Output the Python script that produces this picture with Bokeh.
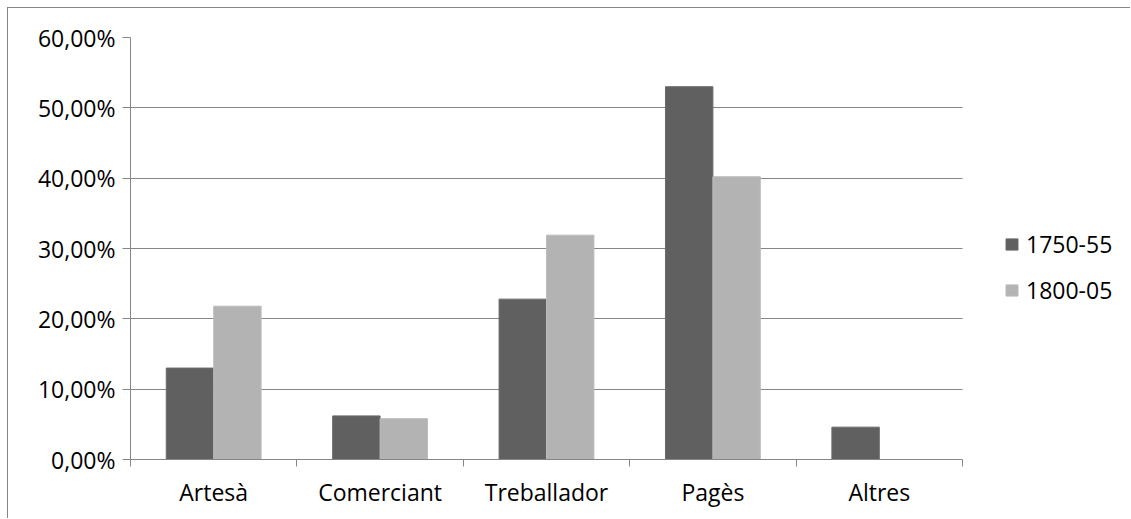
from bokeh.plotting import figure
from bokeh.models import (ColumnDataSource, FixedTicker, CustomJSTickFormatter,
                          Legend, LegendItem, Range1d, Grid)
from bokeh.transform import dodge
from bokeh.embed import file_html
from bokeh.resources import INLINE

categories = ["Artesà", "Comerciant", "Treballador", "Pagès", "Altres"]
series_names = ["1750-55", "1800-05"]
v1750 = [13.0, 6.2, 22.8, 53.0, 4.6]
v1800 = [21.8, 5.8, 31.9, 40.2, 0.0]
y_ticks = [0, 10, 20, 30, 40, 50, 60]

n = len(categories)
centers = [i + 0.5 for i in range(n)]
bounds = [float(i) for i in range(n + 1)]

src = ColumnDataSource(dict(x=centers, a=v1750, b=v1800))

FONT = "Open Sans"
FS = "23px"
GRID = "#868686"

W, H = 1123, 511
LEFT, TOP, BOTTOM = 122, 29, 60
CAT_PX = 832.0  # pixel width that the five categories occupy
x_end = n * (W - LEFT) / CAT_PX

p = figure(width=W, height=H, output_backend="svg", toolbar_location=None,
           x_range=Range1d(0, x_end), y_range=Range1d(0, 60),
           min_border_left=LEFT, min_border_right=0, min_border_top=TOP,
           min_border_bottom=BOTTOM)
p.styles = {"margin-left": "7px", "margin-top": "7px",
            "border-left": "1px solid #868686", "border-top": "1px solid #868686"}
p.outline_line_color = None
p.background_fill_color = "white"
p.border_fill_color = "white"

bw = 0.285
r1 = p.vbar(x=dodge("x", -bw / 2, range=p.x_range), top="a", width=bw, source=src,
            fill_color="#606060", line_color="#6a6a6a", line_width=1)
r2 = p.vbar(x=dodge("x", bw / 2, range=p.x_range), top="b", width=bw, source=src,
            fill_color="#b3b3b3", line_color="#bcbcbc", line_width=1)

# y axis
p.yaxis.ticker = FixedTicker(ticks=y_ticks)
p.yaxis.formatter = CustomJSTickFormatter(code="return tick.toFixed(2).replace('.', ',') + '%';")
p.yaxis.axis_line_color = GRID
p.yaxis.major_tick_line_color = GRID
p.yaxis.major_tick_out = 8
p.yaxis.major_tick_in = 0
p.yaxis.minor_tick_line_color = None
p.yaxis.major_label_standoff = 7
p.yaxis.major_label_text_font = FONT
p.yaxis.major_label_text_font_size = FS
p.yaxis.major_label_text_color = "black"

# x axis
p.xaxis.ticker = FixedTicker(ticks=centers, minor_ticks=bounds)
p.xaxis.bounds = (0, n)
p.xaxis.major_label_overrides = {c: lab for c, lab in zip(centers, categories)}
p.xaxis.axis_line_color = GRID
p.xaxis.major_tick_line_color = None
p.xaxis.major_tick_out = 0
p.xaxis.major_tick_in = 0
p.xaxis.minor_tick_line_color = GRID
p.xaxis.minor_tick_out = 7
p.xaxis.minor_tick_in = 0
p.xaxis.major_label_standoff = 9
p.xaxis.major_label_text_font = FONT
p.xaxis.major_label_text_font_size = FS
p.xaxis.major_label_text_color = "black"

p.xgrid.grid_line_color = None
if "cross_bounds" in Grid.properties():
    p.ygrid.ticker = FixedTicker(ticks=y_ticks)
    p.ygrid.grid_line_color = GRID
    p.ygrid.grid_line_width = 1
    p.ygrid.cross_bounds = (0, n)
else:
    p.ygrid.grid_line_color = None
    p.segment(x0=[0] * len(y_ticks), x1=[n] * len(y_ticks), y0=y_ticks, y1=y_ticks,
              line_color=GRID, line_width=1, level="underlay")

legend = Legend(items=[LegendItem(label=series_names[0], renderers=[r1]),
                       LegendItem(label=series_names[1], renderers=[r2])],
                location=(874, 153), orientation="vertical",
                label_text_font=FONT, label_text_font_size=FS,
                label_text_color="black", glyph_width=15, glyph_height=14,
                label_standoff=7, spacing=14, padding=0, margin=0,
                border_line_color=None, background_fill_alpha=0)
p.add_layout(legend, "center")

open("out.html", "w").write(file_html(p, INLINE))
